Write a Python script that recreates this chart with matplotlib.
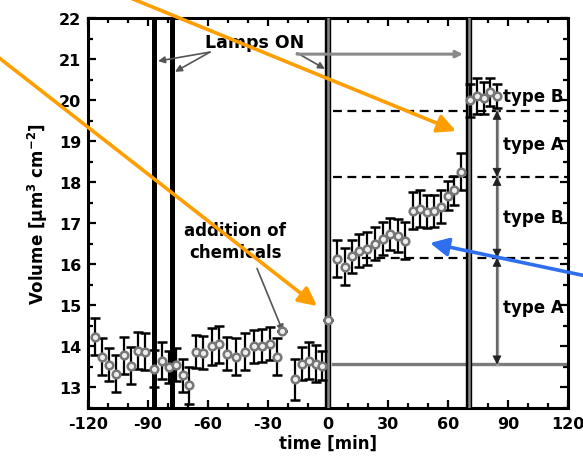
import matplotlib
matplotlib.use("Agg")
import matplotlib.pyplot as plt
from matplotlib.ticker import MultipleLocator

plt.rcParams['font.family'] = ['DejaVu Sans']
plt.rcParams['font.weight'] = 'bold'
plt.rcParams['axes.unicode_minus'] = False

# ---- data ----
t_pre = [-116.5, -113, -109.5, -106, -102, -98.5, -95, -91.5, -87, -83, -79.5, -76,
         -72.5, -69.5, -66, -62.5, -58, -54.5, -50.5, -46, -41.5, -37, -33, -29,
         -25.5, -23, -16.5, -13, -9.5, -6, -3]
V_pre = [14.24, 13.75, 13.55, 13.34, 13.78, 13.53, 13.9, 13.87, 13.46, 13.65, 13.5, 13.55,
         13.3, 13.05, 13.87, 13.85, 14.0, 14.05, 13.82, 13.75, 13.87, 14.0, 14.02, 14.07,
         13.75, 14.38, 13.2, 13.58, 13.65, 13.58, 13.53]
err_pre = [0.45, 0.45, 0.4, 0.45, 0.45, 0.45, 0.45, 0.45, 0.45, 0.45, 0.4, 0.4,
           0.4, 0.45, 0.4, 0.4, 0.45, 0.45, 0.4, 0.45, 0.45, 0.4, 0.4, 0.4,
           0.45, 0.0, 0.5, 0.4, 0.45, 0.45, 0.35]

t_post = [0, 4.5, 8.5, 12, 15.5, 19.5, 23.5, 27.5, 31, 35, 38.5, 42.5, 46, 49.5, 53,
          56.5, 60, 63, 66.5, 71, 74.5, 78, 81, 84.5]
V_post = [14.65, 16.14, 15.94, 16.2, 16.33, 16.38, 16.5, 16.62, 16.74, 16.7, 16.57, 17.3,
          17.35, 17.28, 17.3, 17.4, 17.67, 17.8, 18.25, 20.0, 20.1, 20.05, 20.2, 20.1]
err_post = [0.0, 0.45, 0.45, 0.4, 0.4, 0.4, 0.4, 0.4, 0.4, 0.4, 0.45, 0.45, 0.45, 0.4, 0.4,
            0.4, 0.35, 0.35, 0.45, 0.4, 0.45, 0.4, 0.35, 0.3]

lamp_black = [-87, -78]
lamp_gray = [0, 70.5]
levels = [19.74, 18.13, 16.16, 13.56]
type_labels = ["type B", "type A", "type B", "type A"]
type_label_y = [20.1, 18.93, 17.16, 14.97]
x_ticks = [-120, -90, -60, -30, 0, 30, 60, 90, 120]
y_ticks = [13, 14, 15, 16, 17, 18, 19, 20, 21, 22]

W, H = 583, 464
fig = plt.figure(figsize=(W / 100, H / 100), dpi=100)
ax = fig.add_axes([88 / W, 1 - 409 / H, (568 - 88) / W, (409 - 19) / H])
ax.set_xlim(-120, 120)
ax.set_ylim(12.5, 22)

# vertical lamp lines
for x in lamp_black:
    ax.axvline(x, color='black', lw=3.6, zorder=3)
for x in lamp_gray:
    ax.axvline(x, color='black', lw=4.6, zorder=3)
    ax.axvline(x, color='#888888', lw=1.8, zorder=3.1)

# horizontal reference levels
for lv in levels[:3]:
    ax.plot([2.5, 120], [lv, lv], color='black', lw=1.6, ls=(0, (4, 2.5)), zorder=2)
ax.plot([2.5, 120], [levels[3], levels[3]], color='#7a7a7a', lw=2.4, zorder=2)

# data
ekw = dict(fmt='o', color='black', ecolor='black', elinewidth=1.6, capsize=3.8, capthick=1.6,
           mfc='#eeeeee', mec='#777777', ms=5.5, mew=1.8, zorder=4)
ax.errorbar(t_pre, V_pre, yerr=err_pre, **ekw)
ax.errorbar(t_post, V_post, yerr=err_post, **ekw)

# vertical double arrows
xa = 84.5
ax.plot([xa, xa], [levels[0], levels[3]], color='#999999', lw=2.4, zorder=2.5)
for a, b in zip(levels[:-1], levels[1:]):
    ax.annotate('', xy=(xa, b), xytext=(xa, a),
                arrowprops=dict(arrowstyle='<|-|>,head_length=0.55,head_width=0.28',
                                color='#222222', lw=0.6, shrinkA=0, shrinkB=0), zorder=3)
for lab, y in zip(type_labels, type_label_y):
    ax.text(87.5, y, lab, fontsize=12, fontweight='bold', va='center', ha='left', zorder=5)

# Lamps ON annotation
ax.text(-36.5, 21.42, 'Lamps ON', fontsize=12.5, fontweight='bold', ha='center', va='center')
for tx, ty in [(-85, 20.95), (-76.5, 20.69)]:
    ax.annotate('', xy=(tx, ty), xytext=(-59, 21.17),
                arrowprops=dict(arrowstyle='-|>,head_length=0.4,head_width=0.2',
                                color='#555555', lw=1.2, shrinkA=0, shrinkB=0))
ax.annotate('', xy=(-1.5, 20.76), xytext=(-15.5, 21.15),
            arrowprops=dict(arrowstyle='-|>,head_length=0.4,head_width=0.2',
                            color='#555555', lw=1.2, shrinkA=0, shrinkB=0))
ax.annotate('', xy=(67.5, 21.12), xytext=(-15.5, 21.12),
            arrowprops=dict(arrowstyle='-|>,head_length=0.4,head_width=0.2',
                            color='#8a8a8a', lw=2.2, shrinkA=0, shrinkB=0))

# addition of chemicals
ax.text(-46.5, 16.57, 'addition of\nchemicals', fontsize=12, fontweight='bold',
        ha='center', va='center', linespacing=1.3)
ax.annotate('', xy=(-22.5, 14.36), xytext=(-35.5, 15.9),
            arrowprops=dict(arrowstyle='-|>,head_length=0.4,head_width=0.2',
                            color='#555555', lw=1.2, shrinkA=0, shrinkB=0))

# axes styling
ax.set_xticks(x_ticks)
ax.set_yticks(y_ticks)
ax.xaxis.set_minor_locator(MultipleLocator(10))
ax.yaxis.set_minor_locator(MultipleLocator(0.5))
ax.tick_params(which='both', direction='in', top=True, right=True, width=1.6,
               labelsize=11.5)
ax.tick_params(which='major', length=5.5)
ax.tick_params(which='minor', length=3.5)
ax.tick_params(axis='x', pad=6)
ax.tick_params(axis='y', pad=5)
for lbl in ax.get_xticklabels() + ax.get_yticklabels():
    lbl.set_fontweight('bold')
for s in ax.spines.values():
    s.set_linewidth(2.2)
ax.set_xlabel('time [min]', fontsize=12, fontweight='bold', labelpad=2)
ax.set_ylabel('Volume [µm$^3$ cm$^{-2}$]', fontsize=12, fontweight='bold', labelpad=6)

# overlay arrows (figure pixels)
def farrow(p0, p1, color):
    ax.annotate('', xy=(p1[0], H - p1[1]), xytext=(p0[0], H - p0[1]),
                xycoords='figure pixels', textcoords='figure pixels',
                annotation_clip=False,
                arrowprops=dict(arrowstyle='-|>,head_length=1.1,head_width=0.55',
                                color=color, lw=2.6, shrinkA=0, shrinkB=0), zorder=10)

farrow((128, -2), (456, 132), '#FF9E00')
farrow((-2, 58), (317, 307), '#FF9E00')
farrow((586, 277), (430, 244), '#2F6FEF')

fig.savefig('out.png', dpi=100)
